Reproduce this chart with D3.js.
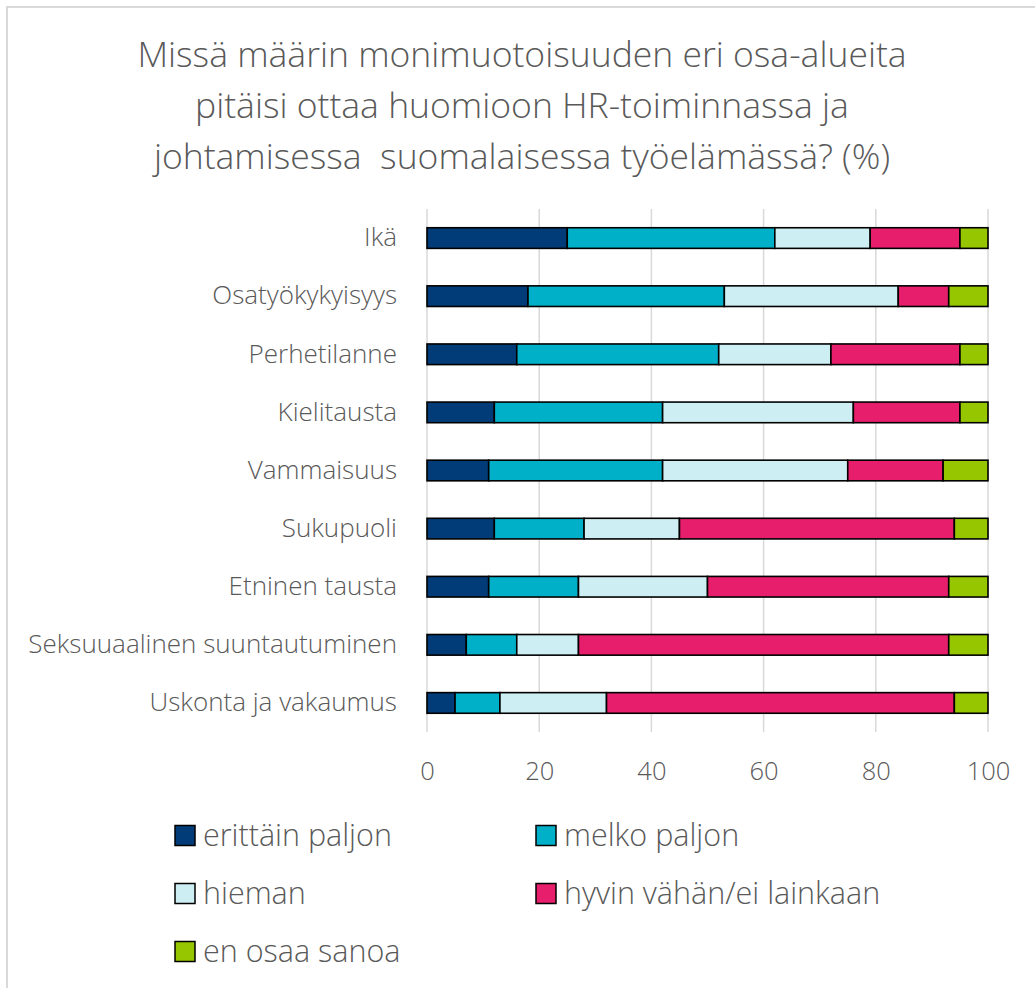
<!DOCTYPE html>
<html><head><meta charset="utf-8">
<script src="https://cdn.jsdelivr.net/npm/d3@7"></script>
<style>body{margin:0;background:#fff}svg{display:block}</style>
</head><body>
<svg id="c" width="1035" height="988"></svg>
<script>
const categories = ["Ikä","Osatyökykyisyys","Perhetilanne","Kielitausta","Vammaisuus","Sukupuoli","Etninen tausta","Seksuuaalinen suuntautuminen","Uskonta ja vakaumus"];
const seriesNames = ["erittäin paljon","melko paljon","hieman","hyvin vähän/ei lainkaan","en osaa sanoa"];
const erittainPaljon = [25,18,16,12,11,12,11,7,5];
const melkoPaljon   = [37,35,36,30,31,16,16,9,8];
const hieman        = [17,31,20,34,33,17,23,11,19];
const hyvinVahan    = [16,9,23,19,17,49,43,66,62];
const enOsaaSanoa   = [5,7,5,5,8,6,7,7,6];
const colors = ["#013c78","#00afc8","#cdeff3","#e61e6b","#95c600"];
const xTicks = [0,20,40,60,80,100];
const titleLines = ["Missä määrin monimuotoisuuden eri osa-alueita","pitäisi ottaa huomioon HR-toiminnassa ja","johtamisessa  suomalaisessa työelämässä? (%)"];

const seriesVals = [erittainPaljon, melkoPaljon, hieman, hyvinVahan, enOsaaSanoa];
const rows = categories.map((c,i)=>{const o={cat:c}; seriesNames.forEach((s,j)=>o[s]=seriesVals[j][i]); return o;});
const stack = d3.stack().keys(seriesNames)(rows);

const svg = d3.select("#c");
const font = "'Open Sans', 'Segoe UI', sans-serif";
const grey = "#595959";

// border
svg.append("path").attr("d","M7,988 V7 H1035").attr("fill","none").attr("stroke","#d9d9d9").attr("stroke-width",2);

// title
svg.append("g").selectAll("text").data(titleLines).join("text")
  .attr("x",522).attr("y",(d,i)=>67+i*51)
  .attr("text-anchor","middle").attr("font-family",font).attr("font-weight",300)
  .attr("font-size",35.5).attr("fill",grey).attr("xml:space","preserve").style("white-space","pre").text(d=>d);

const x = d3.scaleLinear().domain([0,100]).range([427,988]);
const y = d3.scaleBand().domain(categories).range([209,732]).paddingInner(0.645).paddingOuter(0.3225);

// gridlines
svg.append("g").selectAll("line").data(xTicks).join("line")
  .attr("x1",d=>x(d)).attr("x2",d=>x(d)).attr("y1",209).attr("y2",732)
  .attr("stroke","#d9d9d9").attr("stroke-width",1.5);

// bars
svg.append("g").selectAll("g").data(stack).join("g")
  .attr("fill",(d,i)=>colors[i])
  .selectAll("rect").data(d=>d).join("rect")
  .attr("x",d=>x(d[0])).attr("width",d=>x(d[1])-x(d[0]))
  .attr("y",d=>y(d.data.cat)).attr("height",y.bandwidth())
  .attr("stroke","#000").attr("stroke-width",1.6);

// y axis labels
const yAxis = svg.append("g").attr("transform","translate(427,0)").call(d3.axisLeft(y).tickSize(0).tickPadding(30));
yAxis.select(".domain").remove();
yAxis.selectAll("text").attr("font-family",font).attr("font-weight",300).attr("font-size",26).attr("fill",grey);

// x axis labels
const xAxis = svg.append("g").attr("transform","translate(0,732)").call(d3.axisBottom(x).tickValues(xTicks).tickSize(0).tickPadding(30));
xAxis.select(".domain").remove();
xAxis.selectAll("text").attr("font-family",font).attr("font-weight",300).attr("font-size",25.5).attr("fill",grey);

// legend
const leg = svg.append("g").selectAll("g").data(seriesNames).join("g")
  .attr("transform",(d,i)=>`translate(${i%2===0?175:536},${835.5+Math.floor(i/2)*58})`);
leg.append("rect").attr("x",0).attr("y",-10).attr("width",20).attr("height",20)
  .attr("fill",(d,i)=>colors[i]).attr("stroke","#000").attr("stroke-width",1.5);
leg.append("text").attr("x",28).attr("y",0).attr("dy","0.36em")
  .attr("font-family",font).attr("font-weight",300).attr("font-size",30.5).attr("fill",grey).text(d=>d);
</script>
</body></html>
